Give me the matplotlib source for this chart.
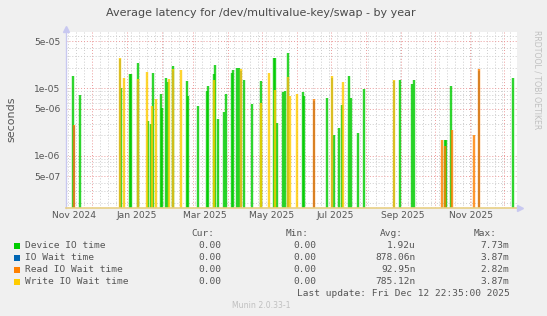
import matplotlib
matplotlib.use("Agg")
import matplotlib.pyplot as plt
import matplotlib.dates as mdates
from matplotlib.ticker import FixedLocator, LogLocator, NullFormatter
from datetime import datetime

# peaks (date, seconds)
device_dates = ["2024-11-14", "2024-11-20", "2024-12-27", "2025-01-04", "2025-01-05",
                "2025-01-11", "2025-01-20", "2025-01-22", "2025-01-24", "2025-01-31",
                "2025-02-01", "2025-02-05", "2025-02-06", "2025-02-11", "2025-02-23",
                "2025-02-24", "2025-03-05", "2025-03-13", "2025-03-14", "2025-03-19",
                "2025-03-20", "2025-03-23", "2025-03-28", "2025-03-30", "2025-04-04",
                "2025-04-05", "2025-04-09", "2025-04-10", "2025-04-15", "2025-04-22",
                "2025-04-30", "2025-05-11", "2025-05-12", "2025-05-14", "2025-05-19",
                "2025-05-21", "2025-05-24", "2025-06-06", "2025-06-07", "2025-06-27",
                "2025-07-04", "2025-07-08", "2025-07-11", "2025-07-17", "2025-07-19",
                "2025-07-25", "2025-07-30", "2025-08-31", "2025-09-11", "2025-09-13",
                "2025-10-10", "2025-10-11", "2025-10-15", "2025-12-09"]
device_vals = [1.52e-5, 8.0e-6, 1.0e-5, 1.63e-5, 1.63e-5,
               2.34e-5, 3.3e-6, 3.0e-6, 1.66e-5, 8.2e-6,
               5.1e-6, 1.4e-5, 1.25e-5, 2.13e-5, 1.3e-5,
               7.7e-6, 5.5e-6, 9.0e-6, 1.08e-5, 1.6e-5,
               2.2e-5, 3.5e-6, 4.5e-6, 8.2e-6, 1.7e-5,
               1.86e-5, 1.97e-5, 1.97e-5, 1.33e-5, 5.9e-6,
               1.28e-5, 2.83e-5, 2.83e-5, 3.1e-6, 8.8e-6,
               9.1e-6, 3.36e-5, 8.8e-6, 7.7e-6, 7.1e-6,
               2.0e-6, 2.56e-6, 5.7e-6, 1.52e-5, 7.1e-6,
               2.16e-6, 9.7e-6, 1.33e-5, 1.16e-5, 1.33e-5,
               1.73e-6, 1.73e-6, 1.08e-5, 1.4e-5]

# hidden under the read/write lines
iowait_dates = ["2024-11-15", "2024-12-26", "2025-01-11", "2025-02-11", "2025-04-12",
                "2025-05-24", "2025-06-16", "2025-07-02", "2025-08-26", "2025-11-09"]
iowait_vals = [2.8e-6, 2.7e-5, 1.3e-5, 1.8e-5, 1.8e-5,
               1.4e-5, 6.5e-6, 1.4e-5, 1.3e-5, 1.8e-5]

read_dates = ["2024-11-15", "2025-06-16", "2025-10-07", "2025-10-10", "2025-10-16",
              "2025-11-05", "2025-11-09"]
read_vals = [2.87e-6, 6.9e-6, 1.73e-6, 1.4e-6, 2.4e-6, 2.05e-6, 1.9e-5]

write_dates = ["2024-12-26", "2024-12-29", "2025-01-11", "2025-01-19", "2025-01-23",
               "2025-01-27", "2025-02-07", "2025-02-11", "2025-02-18", "2025-03-19",
               "2025-04-12", "2025-04-30", "2025-05-07", "2025-05-12", "2025-05-24",
               "2025-05-26", "2025-06-01", "2025-07-02", "2025-07-12", "2025-08-26"]
write_vals = [2.8e-5, 1.4e-5, 1.37e-5, 1.74e-5, 5.5e-6,
              6.9e-6, 1.37e-5, 1.9e-5, 1.86e-5, 1.33e-5,
              1.9e-5, 6.1e-6, 1.66e-5, 9.4e-6, 1.48e-5,
              7.7e-6, 8.2e-6, 1.52e-5, 1.24e-5, 1.33e-5]

series_names = ["Device IO time", "IO Wait time", "Read IO Wait time", "Write IO Wait time"]
series_colors = ["#00cc00", "#0066b3", "#ff8000", "#ffcc00"]
cur_vals = ["0.00", "0.00", "0.00", "0.00"]
min_vals = ["0.00", "0.00", "0.00", "0.00"]
avg_vals = ["1.92u", "878.06n", "92.95n", "785.12n"]
max_vals = ["7.73m", "3.87m", "2.82m", "3.87m"]

ytick_vals = [5e-7, 1e-6, 5e-6, 1e-5, 5e-5]
ytick_labels = ["5e-07", "1e-06", "5e-06", "1e-05", "5e-05"]
xlabel_dates = ["2024-11-15", "2025-01-10", "2025-03-11", "2025-05-09",
                "2025-07-05", "2025-09-03", "2025-11-02"]
xlabel_text = ["Nov 2024", "Jan 2025", "Mar 2025", "May 2025",
               "Jul 2025", "Sep 2025", "Nov 2025"]

W, H = 547, 316
ymin, ymax = 1.69e-7, 6.8e-5


def px(x, y):
    return x / W, 1 - y / H


def to_dt(lst):
    return [datetime.strptime(s, "%Y-%m-%d") for s in lst]


fig = plt.figure(figsize=(W / 100, H / 100), dpi=100, facecolor="#f0f0f0")
ax = fig.add_axes([66 / W, 1 - 208 / H, (517 - 66) / W, (208 - 32) / H])
ax.set_facecolor("white")
ax.set_yscale("log")
ax.set_ylim(ymin, ymax)
ax.set_xlim(datetime(2024, 11, 7, 22, 35), datetime(2025, 12, 12, 22, 35))

# grid: red every month / 1e and 5e, grey weekly / other decades
ax.xaxis.set_major_locator(mdates.MonthLocator(bymonthday=1))
ax.xaxis.set_minor_locator(mdates.WeekdayLocator(byweekday=mdates.SU))
ax.xaxis.set_major_formatter(NullFormatter())
ax.xaxis.set_minor_formatter(NullFormatter())
ax.yaxis.set_major_locator(FixedLocator(ytick_vals))
ax.yaxis.set_major_formatter(matplotlib.ticker.FixedFormatter(ytick_labels))
ax.yaxis.set_minor_locator(LogLocator(base=10, subs=[2, 3, 4, 6, 7, 8, 9]))
ax.yaxis.set_minor_formatter(NullFormatter())
ax.grid(which="minor", color="#cccccc", linestyle=(0, (1, 2)), linewidth=0.7)
ax.grid(which="major", color="#eb9a9a", linestyle=(0, (1, 2)), linewidth=0.7)
ax.tick_params(which="both", length=0)
ax.tick_params(axis="y", labelsize=6.6, colors="#555555", pad=4)
ax.set_axisbelow(True)

for sp in ["top", "right"]:
    ax.spines[sp].set_visible(False)
ax.spines["left"].set_color("#c8c8f0")
ax.spines["bottom"].set_color("#e8cf85")
ax.spines["left"].set_linewidth(1)
ax.spines["bottom"].set_linewidth(1.2)

# spikes
for dates, vals, col, blur in [(device_dates, device_vals, series_colors[0], True),
                               (iowait_dates, iowait_vals, series_colors[1], False),
                               (read_dates, read_vals, series_colors[2], True),
                               (write_dates, write_vals, series_colors[3], True)]:
    d = to_dt(dates)
    if blur:
        ax.vlines(d, ymin, vals, colors=col, linewidth=2.6, alpha=0.2)
    ax.vlines(d, ymin, vals, colors=col, linewidth=1.1)

# x labels
for d, t in zip(to_dt(xlabel_dates), xlabel_text):
    ax.text(d, -0.045, t, transform=ax.get_xaxis_transform(), ha="center", va="center",
            fontsize=6.6, color="#555555")

# axis arrows
fig.add_artist(plt.Line2D([66 / W], [1 - 29 / H], marker="^", markersize=5,
                          color="#c8c8f0", linestyle="none"))
fig.add_artist(plt.Line2D([520 / W], [1 - 208 / H], marker=">", markersize=5,
                          color="#c8c8f0", linestyle="none"))

fig.text(*px(261, 13), "Average latency for /dev/multivalue-key/swap - by year",
         ha="center", va="center", fontsize=8, color="#4a4a4a")
fig.text(*px(11, 119), "seconds", rotation=90, ha="center", va="center",
         fontsize=8, color="#555555")
fig.text(*px(537, 30), "RRDTOOL / TOBI OETIKER", rotation=270, ha="center", va="top",
         fontsize=5.6, color="#c0c0c0")

# legend
mono = "DejaVu Sans Mono"
fs = 6.8
cols_right = [221.7, 316, 416, 509.3]
head_right = [214.3, 309, 402.7, 496.7]
for x, h in zip(head_right, ["Cur:", "Min:", "Avg:", "Max:"]):
    fig.text(*px(x, 234), h, ha="right", va="center", family=mono, fontsize=fs, color="#555555")
row_y = [245.5, 257.5, 269.5, 281.5]
for i, y in enumerate(row_y):
    fig.patches.append(plt.Rectangle(px(13.5, y + 3), 6 / W, 6 / H, transform=fig.transFigure,
                                     facecolor=series_colors[i], edgecolor="none"))
    fig.text(*px(25, y), series_names[i], ha="left", va="center", family=mono,
             fontsize=fs, color="#555555")
    for x, v in zip(cols_right, [cur_vals[i], min_vals[i], avg_vals[i], max_vals[i]]):
        fig.text(*px(x, y), v, ha="right", va="center", family=mono, fontsize=fs,
                 color="#555555")
fig.text(*px(509.3, 293.5), "Last update: Fri Dec 12 22:35:00 2025", ha="right",
         va="center", family=mono, fontsize=fs, color="#555555")
fig.text(*px(261, 305.5), "Munin 2.0.33-1", ha="center", va="center", fontsize=5.6,
         color="#c0c0c0")

fig.savefig("out.png", dpi=100, facecolor=fig.get_facecolor())
